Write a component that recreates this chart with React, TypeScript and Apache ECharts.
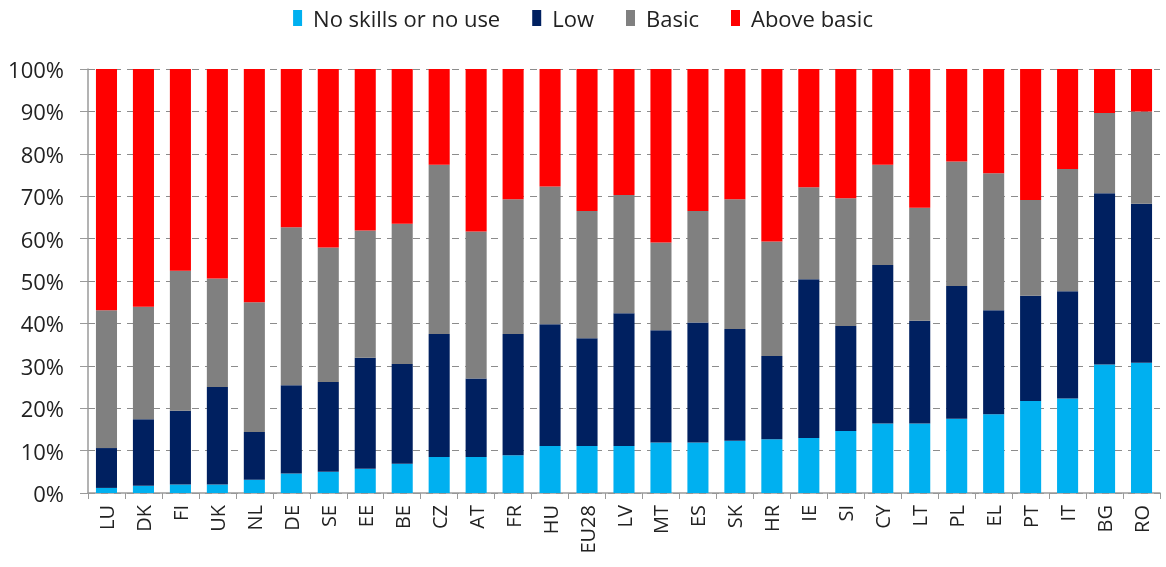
import React, { useEffect, useRef } from "react";
import * as echarts from "echarts";

const categories = ["LU","DK","FI","UK","NL","DE","SE","EE","BE","CZ","AT","FR","HU","EU28","LV","MT","ES","SK","HR","IE","SI","CY","LT","PL","EL","PT","IT","BG","RO"];
const noSkills = [1.2,1.7,2.0,2.0,3.1,4.6,5.0,5.7,6.9,8.5,8.5,8.9,11.1,11.1,11.1,11.9,11.9,12.3,12.7,13.0,14.6,16.4,16.4,17.5,18.6,21.7,22.3,30.3,30.7];
const low = [9.4,15.7,17.4,23.0,11.3,20.8,21.2,26.2,23.5,29.0,18.5,28.6,28.7,25.4,31.3,26.5,28.3,26.4,19.6,37.4,24.8,37.4,24.2,31.3,24.5,24.8,25.3,40.4,37.5];
const basic = [32.5,26.5,33.0,25.6,30.6,37.3,31.7,30.0,33.1,39.9,34.7,31.8,32.5,30.0,27.9,20.7,26.3,30.6,27.0,21.7,30.1,23.6,26.7,29.4,32.3,22.6,28.8,18.9,21.8];
const aboveBasic = [56.9,56.1,47.6,49.4,55.0,37.3,42.1,38.1,36.5,22.6,38.3,30.7,27.7,33.5,29.7,40.9,33.5,30.7,40.7,27.9,30.5,22.6,32.7,21.8,24.6,30.9,23.6,10.4,10.0];
const yTicks = { min: 0, max: 100, interval: 10 };

const seriesDefs = [
  { name: "No skills or no use", data: noSkills, color: "#00B0F0" },
  { name: "Low", data: low, color: "#002060" },
  { name: "Basic", data: basic, color: "#808080" },
  { name: "Above basic", data: aboveBasic, color: "#FF0000" },
];

export default function App() {
  const ref = useRef<HTMLDivElement>(null);
  useEffect(() => {
    if (!ref.current) return;
    const chart = echarts.init(ref.current, undefined, { renderer: "svg" });
    const font = "'Open Sans', sans-serif";
    chart.setOption({
      animation: false,
      textStyle: { fontFamily: font },
      legend: {
        top: 2,
        left: "center",
        itemWidth: 9,
        itemHeight: 16,
        itemGap: 32,
        icon: "rect",
        textStyle: { fontSize: 22, color: "#222", fontFamily: font, padding: [0, 0, 0, 6] },
        data: seriesDefs.map((s) => s.name),
      },
      grid: { left: 88, right: 6, top: 69, bottom: 74, containLabel: false },
      xAxis: {
        type: "category",
        data: categories,
        axisLine: { lineStyle: { color: "#9a9a9a", width: 1.5 } },
        axisTick: { show: true, length: 6, lineStyle: { color: "#9a9a9a" } },
        axisLabel: { rotate: 90, fontSize: 20, color: "#222", margin: 12, fontFamily: font, interval: 0 },
      },
      yAxis: {
        type: "value",
        min: yTicks.min,
        max: yTicks.max,
        interval: yTicks.interval,
        axisLine: { show: true, lineStyle: { color: "#9a9a9a", width: 1.5 } },
        axisTick: { show: true, inside: false, length: 8, lineStyle: { color: "#9a9a9a" } },
        axisLabel: { formatter: "{value}%", fontSize: 22, color: "#222", margin: 24, fontFamily: font },
        splitLine: { show: true, lineStyle: { color: "#8c8c8c", type: [7, 6], width: 1.2 } },
      },
      series: seriesDefs.map((s) => ({
        name: s.name,
        type: "bar",
        stack: "total",
        data: s.data,
        barCategoryGap: "43%",
        itemStyle: { color: s.color },
      })),
    });
    return () => chart.dispose();
  }, []);
  return <div ref={ref} style={{ position: "fixed", left: 0, top: 0, width: 1166, height: 567 }} />;
}
